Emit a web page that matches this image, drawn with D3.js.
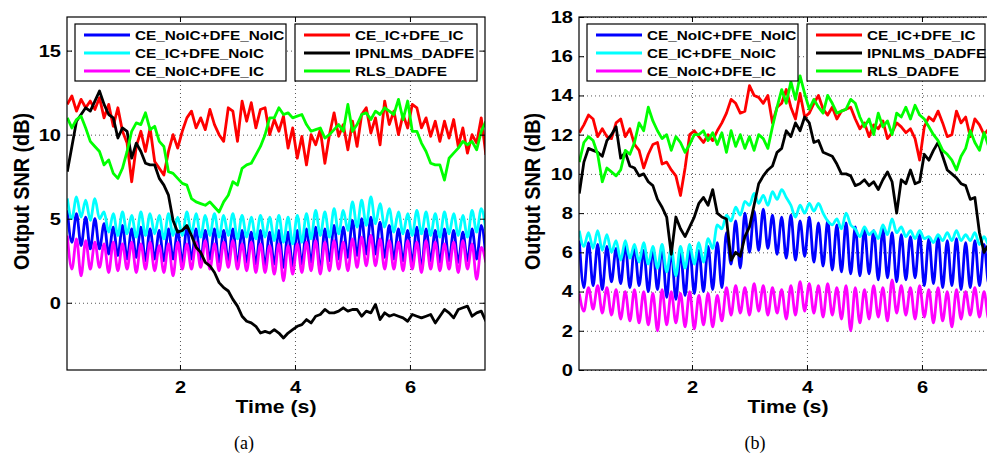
<!DOCTYPE html>
<html>
<head>
<meta charset="UTF-8">
<script src="https://d3js.org/d3.v7.min.js"></script>
<style>
  body { margin: 0; background: #fff; }
  svg { display: block; }
</style>
</head>
<body>
<div id="viz"></div>
<script>
// every series is sampled on the same clock (seconds)
const T0 = 0.04, DT = 0.08;

const names = ["CE_NoIC+DFE_NoIC", "CE_IC+DFE_NoIC", "CE_NoIC+DFE_IC",
               "CE_IC+DFE_IC", "IPNLMS_DADFE", "RLS_DADFE"];
const xTicks = [2, 4, 6];
const aYTicks = [0, 5, 10, 15];
const bYTicks = [0, 2, 4, 6, 8, 10, 12, 14, 16, 18];

// ---- panel (a) ----
const aBlue = [5.5,3.6,5.3,3.4,5.1,3.2,5.0,3.2,4.7,2.9, 4.5,2.8,4.6,2.6,4.4,2.7,4.5,2.5,4.4,2.6,
  4.3,2.5,4.4,2.6,4.3,2.4,4.5,2.6,4.4,2.5, 4.3,2.6,4.4,2.4,4.3,2.5,4.4,2.3,4.3,2.4,
  4.2,2.3,4.3,2.2,4.2,2.3,4.3,2.1,4.2,2.2, 4.3,2.3,4.4,2.4,4.5,1.9,4.4,2.5,4.6,2.6,
  4.5,2.7,4.9,2.8,5.0,2.9,5.1,2.9,4.8,2.7, 4.6,2.6,4.4,2.5,4.3,2.4,4.5,2.0,4.4,2.5,
  4.3,2.4,4.4,2.5,4.3,2.4,4.2,2.5,4.4,2.6, 4.6,2.7];
const aCyan = [6.2,5.0,6.3,5.1,6.1,4.9,6.2,5.0,5.4,4.2, 5.3,4.0,5.4,4.1,5.2,3.9,5.4,4.0,5.3,4.1,
  5.2,3.8,5.3,4.0,5.1,4.0,5.4,4.1,5.3,3.9, 5.2,4.0,5.3,3.9,5.2,4.0,5.3,3.8,5.2,3.9,
  5.1,3.8,5.2,3.9,5.1,3.7,5.2,3.6,5.1,3.5, 5.2,3.6,5.3,3.8,5.5,4.0,5.4,3.9,5.6,4.1,
  5.5,4.3,6.0,4.5,6.1,4.6,6.3,4.7,5.9,4.5, 5.6,4.2,5.4,4.1,5.3,4.0,5.5,4.1,5.4,4.0,
  5.3,3.9,5.4,4.1,5.3,4.0,5.2,3.9,5.5,4.2, 5.6,4.3];
const aMagenta = [4.0,2.0,3.8,1.6,3.7,2.0,3.6,2.1,3.5,1.8, 3.6,1.9,3.5,2.0,3.6,1.8,3.5,2.0,3.6,1.9,
  3.4,1.8,3.5,1.6,3.6,2.0,3.5,2.0,3.6,2.1, 3.7,2.0,3.5,1.9,3.6,2.1,3.7,2.0,3.5,1.9,
  3.6,1.8,3.5,1.8,3.4,1.7,3.5,1.3,3.4,1.7, 3.5,1.8,3.6,1.9,3.7,1.7,3.6,1.9,3.7,2.0,
  3.6,1.9,3.8,2.1,3.9,2.2,4.0,2.2,3.8,2.0, 3.7,2.0,3.6,1.9,3.7,2.0,3.6,1.8,3.7,2.0,
  3.6,1.9,3.5,2.0,3.6,1.8,3.7,2.0,3.5,1.4, 3.3,2.4];
const aRed = [11.8,12.3,11.4,12.1,11.6,12.0,11.5,12.2,11.0,11.8, 10.5,11.6,10.2,9.5,7.2,9.3,10.2,9.0,10.4,8.4,
  8.0,7.6,9.0,10.0,9.2,10.2,11.0,11.4,10.4,11.0, 10.3,11.5,10.6,10.0,9.6,11.6,11.4,9.6,12.0,10.8,
  11.9,10.4,11.5,11.6,10.0,10.9,10.2,11.1,9.2,10.4, 8.6,9.9,8.2,10.0,9.4,10.3,8.3,10.0,11.3,9.9,
  10.6,9.1,10.8,9.3,11.2,11.6,10.1,11.0,9.4,12.0, 10.6,11.4,10.0,11.2,10.4,11.8,11.6,10.4,11.0,9.9,
  10.8,9.6,10.8,9.8,10.9,9.3,10.4,8.9,10.0,9.5, 11.0,8.8];
const aBlack = [7.8,9.3,10.8,11.2,11.6,11.4,12.0,12.6,11.8,11.2, 11.0,9.8,10.4,10.2,8.6,9.5,9.0,8.3,8.2,8.2,
  7.4,7.0,6.4,4.9,4.2,4.3,4.6,4.0,3.3,3.0, 2.4,2.2,1.8,1.2,0.9,0.7,0.2,-0.2,-0.8,-1.1,
  -1.2,-1.4,-1.8,-1.7,-1.8,-1.6,-1.8,-2.1,-1.8,-1.6, -1.4,-1.3,-1.0,-1.2,-0.8,-0.7,-0.4,-0.6,-0.6,-0.5,
  -0.3,-0.5,-0.4,-0.4,-0.8,-0.5,-0.6,-0.1,-1.0,-0.6, -0.8,-0.7,-0.8,-0.9,-1.1,-0.7,-0.8,-0.9,-0.8,-0.7,
  -1.2,-0.8,-0.4,-0.6,-0.9,-0.4,-0.3,-0.2,-0.8,-0.6, -0.5,-1.1];
const aGreen = [11.0,10.4,10.9,11.1,10.4,9.6,9.3,9.0,8.2,8.5, 7.7,7.4,8.0,9.0,10.2,10.7,10.6,11.3,10.3,10.5,
  9.6,9.3,7.8,7.7,7.4,7.1,7.0,6.2,6.0,5.9, 5.8,6.0,5.7,5.4,6.0,6.4,7.2,7.0,8.0,8.2,
  8.3,8.8,9.3,10.0,11.0,11.0,11.6,11.2,11.3,11.0, 11.1,11.2,10.6,10.2,10.3,10.4,9.8,10.0,10.3,10.6,
  10.2,11.8,10.2,10.6,11.2,11.3,10.9,11.4,11.2,11.6, 11.4,11.2,12.1,10.9,12.0,10.2,10.2,9.5,9.0,8.3,
  8.2,8.2,7.3,8.6,8.9,9.2,9.6,9.4,9.6,9.1, 10.2,10.8];

// ---- panel (b) ----
const bBlue = [6.6,4.2,6.5,4.3,6.4,4.1,6.3,4.5,6.2,4.4, 6.4,4.2,6.3,4.3,6.1,4.0,6.2,4.1,6.3,3.7,
  6.1,3.6,6.0,3.8,6.2,3.9,6.1,4.0,6.3,4.1, 6.5,4.2,7.0,5.4,7.6,5.2,8.0,6.0,8.1,6.1,
  8.2,6.2,7.9,5.9,7.8,5.7,7.9,5.6,7.6,5.8, 7.8,5.5,7.5,5.3,7.6,5.1,7.4,5.0,7.5,4.9,
  7.3,4.8,7.2,4.9,7.1,4.6,7.2,4.7,7.0,4.5, 6.9,4.6,6.8,4.7,6.9,4.3,6.7,4.4,6.8,4.2,
  6.6,4.3,6.7,4.1,6.5,4.2,6.6,4.3,6.4,4.4, 6.3,3.9];
const bCyan = [7.1,6.3,7.0,6.2,7.1,6.1,6.9,6.0,6.6,5.6, 6.6,5.7,6.4,5.5,6.5,5.4,6.3,5.2,6.4,5.0,
  6.2,4.8,6.3,5.2,6.4,5.4,6.5,5.5,6.7,6.2, 7.4,7.2,7.9,7.6,8.3,7.9,8.6,8.4,9.0,8.5,
  8.9,8.4,9.1,8.7,9.2,8.8,8.4,7.8,8.4,8.0, 8.5,8.1,8.5,8.0,7.6,7.4,7.7,7.2,8.0,7.4,
  7.2,6.8,7.3,6.9,7.1,6.7,7.4,6.9,7.7,7.0, 7.3,6.8,7.1,6.7,7.1,6.7,6.8,6.5,6.9,6.6,
  7.0,6.6,7.1,6.6,6.9,6.6,7.0,6.4,6.8,6.4, 6.7,6.5];
const bMagenta = [3.9,3.0,4.2,3.1,4.3,2.9,4.2,2.8,4.1,2.6, 4.0,2.5,4.1,2.4,4.0,2.3,3.9,2.0,4.1,2.3,
  4.0,2.4,3.9,2.2,4.0,2.1,3.8,2.3,3.9,2.2, 3.8,2.5,4.2,2.8,4.3,2.9,4.2,2.8,4.4,3.0,
  4.3,2.8,4.2,2.9,4.1,2.6,4.3,2.8,4.5,3.0, 4.4,2.9,4.3,2.7,4.4,2.8,4.2,2.6,4.3,2.0,
  4.2,2.4,4.1,2.6,4.3,2.7,4.2,2.5,4.6,2.9, 4.3,2.8,4.2,2.6,4.3,2.7,4.1,2.4,4.2,2.5,
  4.0,2.2,4.1,2.6,4.0,2.8,4.2,2.7,4.0,2.6, 4.1,3.0];
const bRed = [12.1,12.5,13.0,12.8,11.9,12.3,11.9,11.8,12.6,12.8, 11.9,12.3,11.5,11.2,10.3,11.0,11.5,11.6,10.5,10.6,
  10.2,9.9,8.9,10.3,12.0,12.2,11.9,11.6,12.0,11.7, 12.2,12.6,13.1,13.8,13.6,13.1,13.2,14.5,14.0,13.9,
  13.6,14.0,12.6,13.4,13.6,14.3,13.4,12.8,14.1,12.9, 13.1,13.6,14.0,13.3,13.0,13.4,12.8,13.2,13.3,13.4,
  12.8,12.3,12.6,11.9,12.5,12.3,12.7,11.8,12.1,12.6, 12.4,12.1,12.3,11.8,10.7,12.4,12.9,12.7,13.2,12.6,
  11.9,12.0,13.2,12.6,12.9,11.9,12.8,12.5,12.0,12.3, 11.7,12.2];
const bBlack = [9.0,10.6,11.3,11.2,11.1,10.9,11.7,12.0,12.4,10.8, 11.1,10.4,10.3,9.9,10.0,9.6,9.4,8.7,8.3,7.8,
  5.9,7.8,7.2,6.8,7.3,7.8,8.5,8.8,8.4,9.2, 8.0,7.8,7.7,5.6,6.0,5.8,6.8,7.3,8.4,9.5,
  9.9,10.2,10.4,11.1,11.3,12.2,11.9,12.6,12.2,12.9, 12.6,11.6,11.7,11.1,11.0,10.9,10.5,10.0,10.0,9.9,
  9.4,9.5,9.7,9.4,9.6,9.2,9.7,10.1,9.6,8.0, 9.7,9.5,10.2,9.5,9.6,11.0,10.7,11.2,11.6,10.9,
  10.2,10.0,9.8,9.5,9.4,8.7,8.8,7.0,6.0,6.4, 6.3,6.4];
const bGreen = [10.6,11.6,11.9,11.7,11.0,9.6,10.3,10.1,9.9,10.2, 11.2,11.0,11.6,12.6,12.2,13.4,12.7,12.2,11.8,12.0,
  11.2,11.9,11.6,11.1,11.5,12.0,12.0,12.2,11.7,12.1, 11.5,12.1,11.1,12.2,11.4,12.0,11.3,11.9,11.2,12.0,
  11.8,11.3,12.4,13.4,14.3,13.6,14.7,13.8,15.0,14.1, 13.3,13.8,13.4,13.1,14.0,13.6,13.1,13.2,13.3,13.8,
  13.6,12.9,12.4,12.8,12.0,13.1,12.4,12.7,12.0,13.1, 12.9,13.4,12.8,13.5,13.0,12.8,12.4,12.0,11.7,11.2,
  11.0,10.7,10.2,10.9,11.3,12.2,11.6,11.2,12.1,11.4, 11.8,11.5];

const colors = ["#0000ff", "#00ffff", "#ff00ff", "#ff0000", "#000000", "#00ff00"];
const SX = 1.18;   // the original figure is stretched sideways

const svg = d3.select("#viz").append("svg")
    .attr("width", 987).attr("height", 455)
    .attr("font-family", "'Liberation Sans', Arial, sans-serif")
    .attr("font-weight", "bold");

svg.append("rect").attr("width", 987).attr("height", 455).attr("fill", "#fff");

function stretchText(sel) {
  sel.each(function() {
    const t = d3.select(this);
    t.attr("x", (+t.attr("x") || 0) / SX).attr("transform", `scale(${SX},1)`);
  });
}

function panel(o) {
  const w = 418, h = 353;
  const g = svg.append("g").attr("transform", `translate(${o.left},${o.top})`);
  const x = d3.scaleLinear().domain([0.035, 7.305]).range([0, w]);
  const y = d3.scaleLinear().domain(o.yDomain).range([h, 0]);

  g.append("clipPath").attr("id", "clip-" + o.id)
    .append("rect").attr("width", w).attr("height", h);

  // dotted grid
  const gx = g.append("g").attr("transform", `translate(0,${h})`)
      .call(d3.axisBottom(x).tickValues(xTicks).tickSize(-h).tickFormat(""));
  const gy = g.append("g")
      .call(d3.axisLeft(y).tickValues(o.yTicks).tickSize(-w).tickFormat(""));
  [gx, gy].forEach(s => {
    s.select(".domain").remove();
    s.selectAll("line").attr("stroke", "#555").attr("stroke-dasharray", "1,3");
  });

  // the three periodic curves are smoothed, the noisy ones stay straight-segment
  const smooth = d3.line().curve(d3.curveMonotoneX)
      .x((d, i) => x(T0 + i * DT)).y(d => y(d));
  const plain = d3.line().x((d, i) => x(T0 + i * DT)).y(d => y(d));
  g.append("g").attr("clip-path", `url(#clip-${o.id})`)
    .selectAll("path").data(o.series).join("path")
      .attr("d", (d, i) => i < 3 ? smooth(d) : plain(d))
      .attr("fill", "none")
      .attr("stroke", (d, i) => colors[i])
      .attr("stroke-width", 2.8)
      .attr("stroke-linejoin", "round");

  // box and inward ticks
  g.append("rect").attr("width", w).attr("height", h)
    .attr("fill", "none").attr("stroke", "#000").attr("stroke-width", 1.2);
  const ax = [
    g.append("g").attr("transform", `translate(0,${h})`)
      .call(d3.axisBottom(x).tickValues(xTicks).tickSize(-5).tickPadding(11)),
    g.append("g")
      .call(d3.axisLeft(y).tickValues(o.yTicks).tickSize(-5).tickPadding(6)),
    g.append("g")
      .call(d3.axisTop(x).tickValues(xTicks).tickSize(-5).tickFormat("")),
    g.append("g").attr("transform", `translate(${w},0)`)
      .call(d3.axisRight(y).tickValues(o.yTicks).tickSize(-5).tickFormat(""))
  ];
  ax.forEach(s => {
    s.select(".domain").remove();
    s.selectAll("line").attr("stroke", "#000");
    s.selectAll("text").attr("font-size", 17).attr("font-family", null)
      .attr("fill", "#000").call(stretchText);
  });

  // legends (two boxes of three)
  [[0, 8, 211], [3, 228, o.box2w]].forEach(([start, bx, bw]) => {
    const lg = g.append("g");
    lg.append("rect").attr("x", bx).attr("y", 7).attr("width", bw).attr("height", 57)
      .attr("fill", "#fff").attr("stroke", "#000").attr("stroke-width", 1.2);
    for (let k = 0; k < 3; k++) {
      const yy = 18 + k * 18;
      lg.append("line").attr("x1", bx + 9).attr("x2", bx + 55)
        .attr("y1", yy).attr("y2", yy)
        .attr("stroke", colors[start + k]).attr("stroke-width", 3);
      lg.append("text").attr("x", bx + 60).attr("y", yy).attr("dy", "0.36em")
        .attr("font-size", 13).text(names[start + k]).call(stretchText);
    }
  });

  // axis titles and caption
  g.append("text").attr("x", w / 2).attr("y", 396).attr("text-anchor", "middle")
    .attr("font-size", 18).text("Time (s)").call(stretchText);
  g.append("text")
    .attr("transform", `translate(${o.ylabX},${h / 2 - 2}) rotate(-90) scale(1.1,${SX})`)
    .attr("text-anchor", "middle").attr("dy", "0.36em")
    .attr("font-size", 18).text("Output SNR (dB)");
  svg.append("text").attr("x", o.capX).attr("y", 449).attr("text-anchor", "middle")
    .attr("font-family", "'Liberation Serif', 'DejaVu Serif', serif")
    .attr("font-weight", "normal").attr("font-size", 18).text(o.caption);
}

panel({ id: "a", left: 67, top: 17, yDomain: [-4, 17], yTicks: aYTicks, box2w: 182,
  series: [aBlue, aCyan, aMagenta, aRed, aBlack, aGreen],
  ylabX: -46, capX: 244, caption: "(a)" });
panel({ id: "b", left: 579, top: 17, yDomain: [0, 18], yTicks: bYTicks, box2w: 178,
  series: [bBlue, bCyan, bMagenta, bRed, bBlack, bGreen],
  ylabX: -47, capX: 755, caption: "(b)" });
</script>
</body>
</html>
